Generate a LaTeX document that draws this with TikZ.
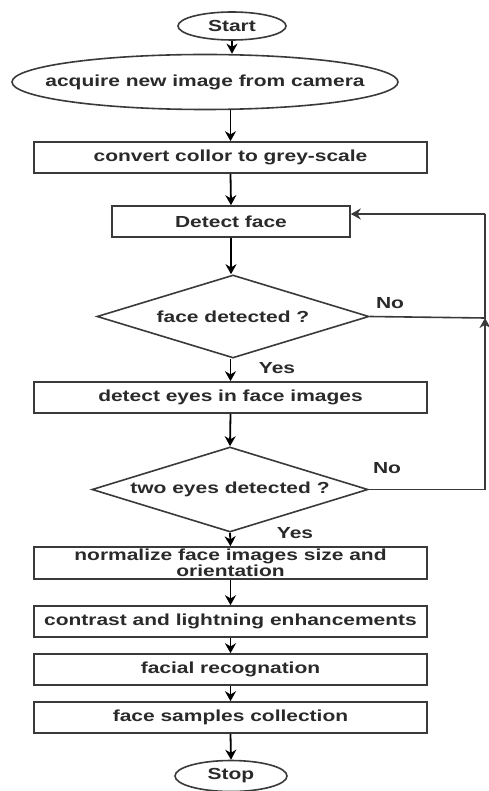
\documentclass[tikz,border=0pt]{standalone}
\usepackage{fontspec}
\newfontfamily\lbl[FakeStretch=1.31]{Liberation Sans Bold}
\usetikzlibrary{shapes.geometric,arrows.meta}
\definecolor{edge}{HTML}{3A3A3A}
\definecolor{ink}{HTML}{2A2A2A}
\begin{document}
\begin{tikzpicture}[x=1pt,y=-1pt,
  base/.style={draw=edge,line width=1.6pt,inner sep=0pt,text=ink,font=\lbl\fontsize{16}{16}\selectfont},
  term/.style={base,ellipse},
  procbox/.style={base,rectangle,minimum width=393pt,minimum height=31pt},
  decision/.style={base,diamond,aspect=3.3},
  lab/.style={text=ink,font=\lbl\fontsize{16}{16}\selectfont,inner sep=0pt},
  arr/.style={draw=black,line width=1.8pt,-{Stealth[length=10pt,width=11pt]}},
  ln/.style={draw=edge,line width=1.6pt}]
\useasboundingbox (0,0) rectangle (488,791);
\fill[white] (0,0) rectangle (488,791);

\node[term,minimum width=108pt,minimum height=28pt] (start) at (232,26) {\makebox[0pt]{Start}};
\node[term,minimum width=386pt,minimum height=55pt] (acq) at (205,82) {\makebox[0pt]{acquire new image from camera}};
\node[procbox] (conv) at (230.5,157.5) {convert collor to grey-scale};
\node[procbox,minimum width=238pt] (det) at (231,221.5) {Detect face};
\node[decision,minimum width=272pt,minimum height=83pt] (d1) at (233,316.5) {face detected ?};
\node[procbox] (eyes) at (230.5,397.5) {detect eyes in face images};
\node[decision,minimum width=276pt,minimum height=85pt] (d2) at (230,489.5) {two eyes detected ?};
\node[procbox,minimum height=32pt,align=center] (norm) at (230.5,563) {normalize face images size and\\orientation};
\node[procbox] (cont) at (230.5,621.5) {contrast and lightning enhancements};
\node[procbox] (fac) at (230.5,669.5) {facial recognation};
\node[procbox] (samp) at (230.5,717.5) {face samples collection};
\node[term,minimum width=112pt,minimum height=31pt] (stop) at (231,776) {\makebox[0pt]{Stop}};

\node[lab] (no1) at (390,303) {No};
\node[lab] (no2) at (387,468) {No};
\node[lab] (yes1) at (277,368) {Yes};
\node[lab] (yes2) at (295,533) {Yes};

\coordinate (rj) at (485,318);
\coordinate (rt) at (485,214);
\coordinate (rb) at (485,489.5);

\draw[arr] (start.south) -- (start.south |- acq.north);
\draw[arr] (conv.north |- acq.south) -- (conv.north);
\draw[arr] (conv.south) -- (det.north);
\draw[arr] (det.south) -- (det.south |- d1.north);
\draw[arr] (eyes.north |- d1.south) -- (eyes.north);
\draw[arr] (eyes.south) -- (d2.north);
\draw[arr] (d2.south) -- (norm.north);
\draw[arr] (norm.south) -- (cont.north);
\draw[arr] (cont.south) -- (fac.north);
\draw[arr] (fac.south) -- (samp.north);
\draw[arr] (samp.south) -- (stop.north);

\draw[ln] (d1.east) -- (rj) -- (rt);
\draw[arr,draw=edge,line width=1.6pt] (rt) -- (det.east |- rt);
\draw[ln] (d2.east) -- (rb);
\draw[arr,draw=edge,line width=1.6pt] (rb) -- (rj);
\end{tikzpicture}
\end{document}
